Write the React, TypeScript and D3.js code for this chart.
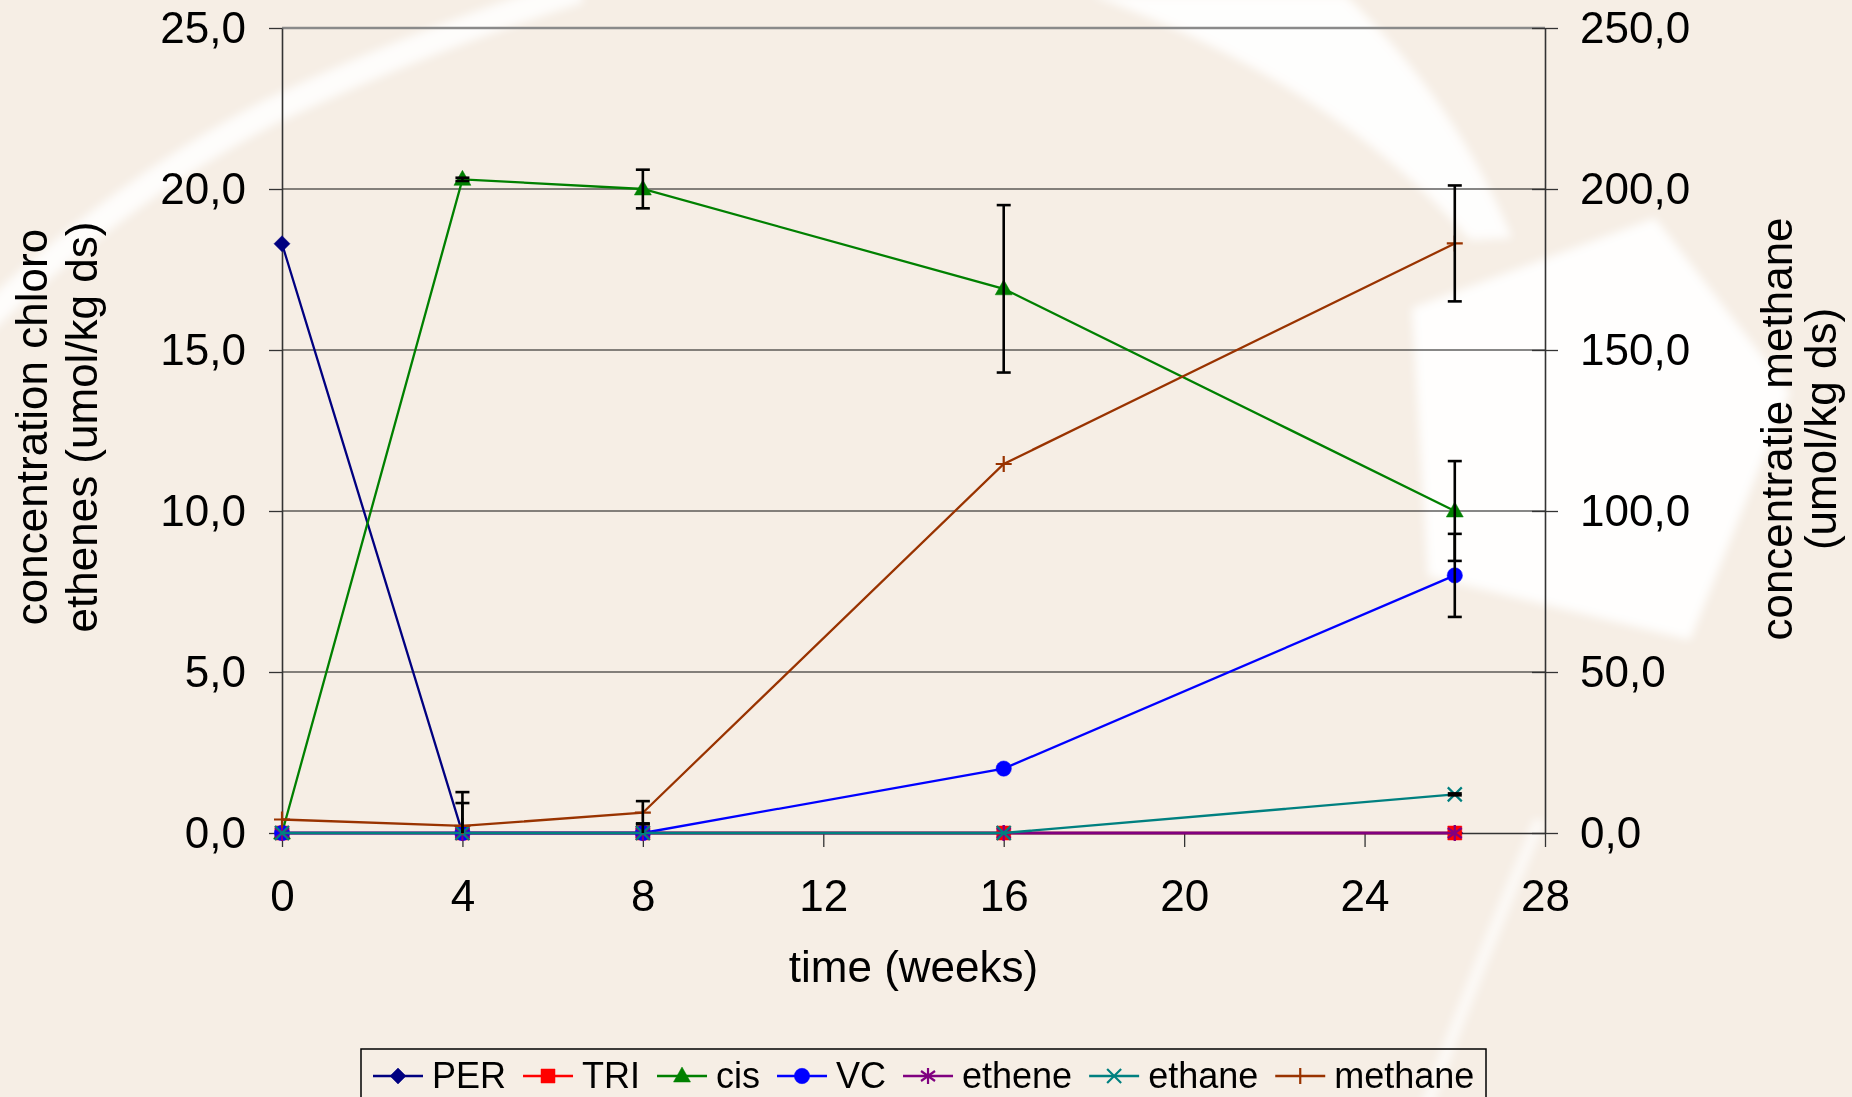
import React, { useEffect, useRef } from 'react';
import * as d3 from 'd3';

// sample times
const weeks = [0, 4, 8, 16, 26];

// chloro ethenes (umol/kg ds), left axis
const perValues = [18.3, 0, 0, 0, 0];
const triValues = [0, 0, 0, 0, 0];
const cisValues = [0, 20.3, 20.0, 16.9, 10.0];
const vcValues = [0, 0, 0, 2.0, 8.0];
const etheneValues = [0, 0, 0, 0, 0];
const ethaneValues = [0, 0, 0, 0, 1.2];
// methane (umol/kg ds), right axis
const methaneValues = [4.2, 2.2, 6.3, 114.6, 183.1];

// error bars (+/-)
const perErr = [0, 0.93, 0.3, 0, 0];
const cisErr = [0, 0.05, 0.6, 2.6, 1.55];
const vcErr = [0, 0, 0, 0, 1.29];
const ethaneErr = [0, 0, 0, 0, 0.03];
const methaneErr = [0, 10.5, 3.6, 0, 18.0];

const xTicks = [0, 4, 8, 12, 16, 20, 24, 28];
const leftTicks = [0, 5, 10, 15, 20, 25];
const rightTicks = [0, 50, 100, 150, 200, 250];

const FONT = "'Liberation Sans', Arial, sans-serif";

const series = [
  { name: 'PER', values: perValues, err: perErr, color: '#000080', marker: 'diamond', right: false },
  { name: 'TRI', values: triValues, err: null, color: '#FF0000', marker: 'square', right: false },
  { name: 'cis', values: cisValues, err: cisErr, color: '#008000', marker: 'triangle', right: false },
  { name: 'VC', values: vcValues, err: vcErr, color: '#0000FF', marker: 'circle', right: false },
  { name: 'ethene', values: etheneValues, err: null, color: '#800080', marker: 'star', right: false },
  { name: 'ethane', values: ethaneValues, err: ethaneErr, color: '#008080', marker: 'x', right: false },
  { name: 'methane', values: methaneValues, err: methaneErr, color: '#993300', marker: 'plus', right: true },
];

function markerShape(type: string) {
  switch (type) {
    case 'diamond': return { d: 'M0,-8L8,0L0,8L-8,0Z', filled: true };
    case 'square': return { d: 'M-7,-7H7V7H-7Z', filled: true };
    case 'triangle': return { d: 'M0,-9L8.5,6L-8.5,6Z', filled: true };
    case 'circle': return { d: d3.symbol(d3.symbolCircle, 185)() as string, filled: true };
    case 'star': return { d: 'M0,-8V8M-7,-5L7,5M-7,5L7,-5', filled: false };
    case 'x': return { d: 'M-7,-7L7,7M-7,7L7,-7', filled: false };
    default: return { d: 'M-8,0H8M0,-8V8', filled: false };
  }
}

function addMarker(g: any, type: string, cx: number, cy: number, color: string) {
  const m = markerShape(type);
  g.append('path')
    .attr('d', m.d)
    .attr('transform', `translate(${cx},${cy})`)
    .attr('fill', m.filled ? color : 'none')
    .attr('stroke', color)
    .attr('stroke-width', m.filled ? 0.5 : 2.2);
}

export default function App() {
  const svgRef = useRef<SVGSVGElement | null>(null);

  const width = 1852;
  const height = 1097;
  const plot = { left: 282, right: 1545, top: 28, bottom: 833 };

  useEffect(() => {
    const svg = d3.select(svgRef.current);
    svg.selectAll('*').remove();

    const x = d3.scaleLinear().domain([0, 28]).range([plot.left, plot.right]);
    const yL = d3.scaleLinear().domain([0, 25]).range([plot.bottom, plot.top]);
    const yR = d3.scaleLinear().domain([0, 250]).range([plot.bottom, plot.top]);
    const nl = d3.formatLocale({ decimal: ',', thousands: '.', grouping: [3], currency: ['', ''] });
    const fmt = nl.format('.1f');

    // background + watermark
    svg.append('rect').attr('width', width).attr('height', height).attr('fill', '#F6EEE5');
    const defs = svg.append('defs');
    defs.append('filter').attr('id', 'soft')
      .append('feGaussianBlur').attr('stdDeviation', 5);
    defs.append('clipPath').attr('id', 'plotclip')
      .append('rect')
      .attr('x', plot.left - 20).attr('y', plot.top - 20)
      .attr('width', plot.right - plot.left + 40).attr('height', plot.bottom - plot.top + 20);

    const wm = svg.append('g').attr('filter', 'url(#soft)');
    wm.append('path')
      .attr('d', 'M-20,325 Q120,190 270,112 Q420,40 580,-10')
      .attr('fill', 'none').attr('stroke', '#ffffff').attr('stroke-width', 26).attr('opacity', 0.85);
    wm.append('path')
      .attr('d', 'M1090,-5 L1345,-5 Q1455,100 1512,238 L1470,240 Q1330,80 1090,-5 Z')
      .attr('fill', '#ffffff').attr('opacity', 0.9);
    wm.append('path')
      .attr('d', 'M1412,308 L1655,218 L1790,392 L1690,640 L1428,576 Z')
      .attr('fill', '#ffffff').attr('opacity', 0.92);
    wm.append('path')
      .attr('d', 'M1540,820 Q1480,960 1425,1110')
      .attr('fill', 'none').attr('stroke', '#ffffff').attr('stroke-width', 12).attr('opacity', 0.7);

    // gridlines
    svg.append('g')
      .selectAll('line')
      .data(leftTicks.filter(t => t > 0 && t < 25))
      .enter()
      .append('line')
      .attr('x1', plot.left).attr('x2', plot.right)
      .attr('y1', d => yL(d)).attr('y2', d => yL(d))
      .attr('stroke', '#111').attr('stroke-width', 1.2);
    svg.append('line')
      .attr('x1', plot.left).attr('x2', plot.right)
      .attr('y1', plot.top).attr('y2', plot.top)
      .attr('stroke', '#8a8a8a').attr('stroke-width', 2.5);

    // axes
    const styleAxis = (g: any) => {
      g.attr('font-family', FONT).attr('font-size', 44);
      g.selectAll('text').attr('fill', '#000');
      g.selectAll('line').attr('stroke', '#333').attr('stroke-width', 1.3);
      g.select('.domain').attr('stroke', '#333').attr('stroke-width', 1.6);
    };

    const leftAxis = svg.append('g')
      .attr('transform', `translate(${plot.left},0)`)
      .call(d3.axisLeft(yL).tickValues(leftTicks).tickSize(13).tickSizeOuter(0).tickPadding(23).tickFormat(d => fmt(d as number)));
    styleAxis(leftAxis);

    const rightAxis = svg.append('g')
      .attr('transform', `translate(${plot.right},0)`)
      .call(d3.axisRight(yR).tickValues(rightTicks).tickSize(13).tickSizeOuter(0).tickPadding(22).tickFormat(d => fmt(d as number)));
    styleAxis(rightAxis);
    rightAxis.selectAll('.tick line').attr('x1', -13).attr('x2', 13);

    const bottomAxis = svg.append('g')
      .attr('transform', `translate(0,${plot.bottom})`)
      .call(d3.axisBottom(x).tickValues(xTicks).tickSize(14).tickSizeOuter(0).tickPadding(33).tickFormat(d3.format('d')));
    styleAxis(bottomAxis);

    // series lines + markers
    series.forEach(s => {
      const y = s.right ? yR : yL;
      const line = d3.line<number>()
        .x((_, i) => x(weeks[i]))
        .y(d => y(d));
      const g = svg.append('g');
      g.append('path')
        .attr('d', line(s.values))
        .attr('fill', 'none')
        .attr('stroke', s.color)
        .attr('stroke-width', 2.3);
      s.values.forEach((v, i) => addMarker(g, s.marker, x(weeks[i]), y(v), s.color));
    });

    // error bars
    const eg = svg.append('g').attr('clip-path', 'url(#plotclip)');
    series.forEach(s => {
      if (!s.err) return;
      const y = s.right ? yR : yL;
      s.values.forEach((v, i) => {
        const e = s.err![i];
        if (!e) return;
        const cx = x(weeks[i]);
        const y1 = y(v + e);
        const y2 = Math.min(y(v - e), plot.bottom);
        eg.append('line').attr('x1', cx).attr('x2', cx).attr('y1', y1).attr('y2', y2)
          .attr('stroke', '#000').attr('stroke-width', 2.6);
        eg.append('line').attr('x1', cx - 7).attr('x2', cx + 7).attr('y1', y1).attr('y2', y1)
          .attr('stroke', '#000').attr('stroke-width', 2.6);
        if (v - e >= 0) {
          eg.append('line').attr('x1', cx - 7).attr('x2', cx + 7).attr('y1', y(v - e)).attr('y2', y(v - e))
            .attr('stroke', '#000').attr('stroke-width', 2.6);
        }
      });
    });

    // axis titles
    svg.append('text')
      .attr('x', (plot.left + plot.right) / 2).attr('y', 982)
      .attr('text-anchor', 'middle')
      .attr('font-family', FONT).attr('font-size', 44)
      .text('time (weeks)');

    const vTitle = (lines: string[], xs: number[], cy: number) => {
      lines.forEach((t, i) => {
        svg.append('text')
          .attr('transform', `translate(${xs[i]},${cy}) rotate(-90)`)
          .attr('text-anchor', 'middle')
          .attr('font-family', FONT).attr('font-size', 44)
          .text(t);
      });
    };
    vTitle(['concentration chloro', 'ethenes (umol/kg ds)'], [47, 97], 427);
    vTitle(['concentratie methane', '(umol/kg ds)'], [1792, 1836], 429);

    // legend
    const lg = svg.append('g');
    lg.append('rect')
      .attr('x', 361).attr('y', 1049).attr('width', 1125).attr('height', 80)
      .attr('fill', 'none').attr('stroke', '#000').attr('stroke-width', 1.5);
    const ctx = document.createElement('canvas').getContext('2d')!;
    ctx.font = `36px ${FONT}`;
    let lx = 373;
    const ly = 1076;
    series.forEach(s => {
      lg.append('line')
        .attr('x1', lx).attr('x2', lx + 50).attr('y1', ly).attr('y2', ly)
        .attr('stroke', s.color).attr('stroke-width', 2.3);
      addMarker(lg, s.marker, lx + 25, ly, s.color);
      lg.append('text')
        .attr('x', lx + 59).attr('y', 1088)
        .attr('font-family', FONT).attr('font-size', 36)
        .text(s.name);
      lx += 59 + ctx.measureText(s.name).width + 17;
    });
  }, []);

  return (
    <svg
      ref={svgRef}
      width={width}
      height={height}
      style={{ position: 'absolute', left: 0, top: 0, display: 'block' }}
    />
  );
}
